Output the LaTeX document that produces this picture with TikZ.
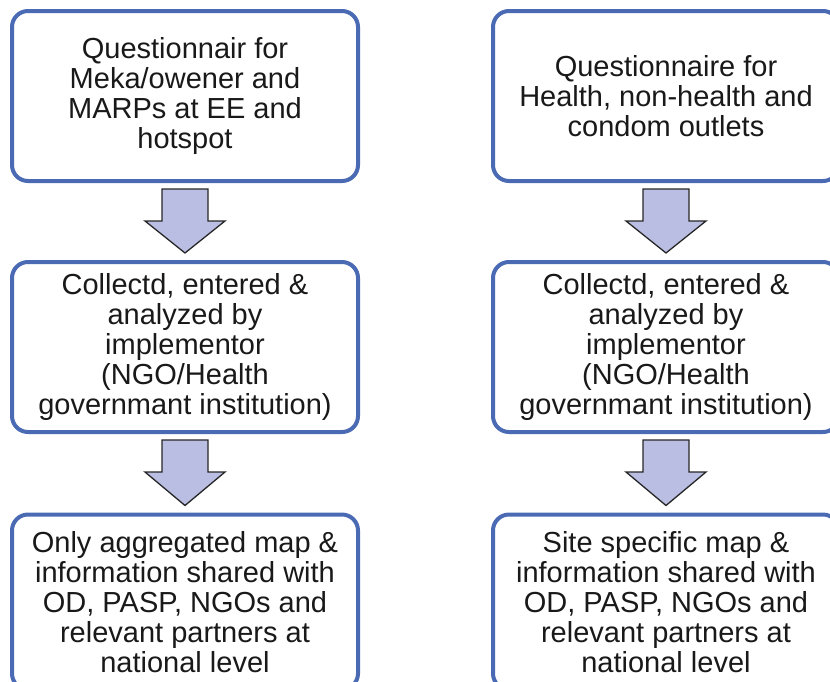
\documentclass[tikz,border=0pt]{standalone}
\usepackage{fontspec}
\setmainfont{Liberation Sans}
\usetikzlibrary{calc}
\definecolor{boxblue}{RGB}{74,106,180}
\definecolor{arrowfill}{RGB}{185,190,226}
\begin{document}
\begin{tikzpicture}[x=1pt,y=-1pt,
  box/.style={draw=boxblue, line width=4pt, rounded corners=16pt, fill=white,
    minimum width=346pt, align=center, inner sep=0pt, outer sep=0pt,
    font=\fontsize{29pt}{30pt}\selectfont, text=black!90},
  blockarrow/.style={draw=black!85, line width=1.3pt, fill=arrowfill, line join=miter}]
\useasboundingbox (0,0) rectangle (830,681);
% boxes
\node[box, minimum height=170pt] (a1) at (185,96) {Questionnair for\\Meka/owener and\\MARPs at EE and\\hotspot};
\node[box, minimum height=170pt] (a2) at (185,347) {Collectd, entered \&\\analyzed by\\implementor\\(NGO/Health\\governmant institution)};
\node[box, minimum height=175pt] (a3) at (185,602) {Only aggregated map \&\\information shared with\\OD, PASP, NGOs and\\relevant partners at\\national level};
\node[box, minimum height=170pt] (b1) at (666,96) {Questionnaire for\\Health, non-health and\\condom outlets};
\node[box, minimum height=170pt] (b2) at (666,347) {Collectd, entered \&\\analyzed by\\implementor\\(NGO/Health\\governmant institution)};
\node[box, minimum height=175pt] (b3) at (666,602) {Site specific map \&\\information shared with\\OD, PASP, NGOs and\\relevant partners at\\national level};
% block arrows
\foreach \s/\t in {a1/a2,a2/a3,b1/b2,b2/b3}{
  \draw[blockarrow] ($(\s.south)+(-23,8)$) -- ($(\s.south)+(23,8)$) -- ($(\s.south)+(23,40)$)
    -- ($(\s.south)+(40,40)$) -- ($(\t.north)+(0,-9)$) -- ($(\s.south)+(-40,40)$)
    -- ($(\s.south)+(-23,40)$) -- cycle;
}
\end{tikzpicture}
\end{document}
